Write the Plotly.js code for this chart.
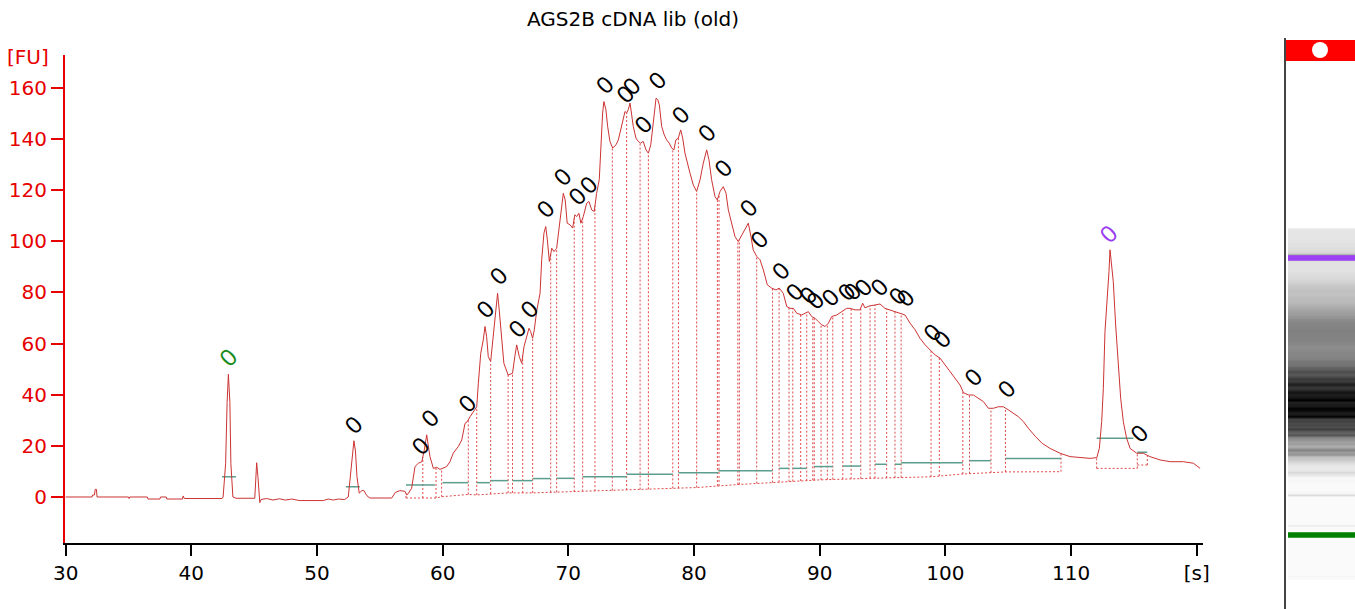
<!DOCTYPE html>
<html>
<head>
<meta charset="utf-8">
<script src="https://cdn.plot.ly/plotly-3.0.1.min.js"></script>
<style>html,body{margin:0;padding:0;background:#fff;}#chart{width:1355px;height:609px;}</style>
</head>
<body>
<div id="chart"></div>
<script>
// ---- Electropherogram trace (migration time [s], fluorescence [FU]) ----
const timeS = [30.0,32.10,32.15,32.30,32.35,32.45,32.50,35.00,35.05,35.10,36.50,36.55,37.50,37.55,38.00,38.05,39.30,39.35,39.45,42.45,
42.53,42.73,42.85,42.95,43.07,43.15,43.31,43.56,45.05,45.15,45.20,45.30,45.40,45.45,45.55,46.00,46.50,47.00,47.50,48.00,48.60,50.50,50.90,51.30,51.70,52.20,
52.49,52.70,52.86,52.94,53.06,53.18,53.36,53.57,53.73,53.97,54.21,55.95,56.24,56.60,57.00,57.14,57.24,57.53,57.80,58.07,58.34,58.54,58.73,58.99,
59.26,59.53,59.79,60.05,60.32,60.58,60.84,61.24,61.52,61.78,61.96,62.18,62.44,62.71,62.84,63.03,63.23,63.37,63.50,63.63,63.82,64.02,64.24,64.37,64.50,
64.69,64.87,65.21,65.56,65.74,65.89,66.10,66.29,66.47,66.68,66.87,67.00,67.16,67.29,67.49,67.75,67.88,68.06,68.20,68.33,68.49,68.68,68.86,69.07,69.28,
69.47,69.60,69.75,69.91,70.13,70.34,70.52,70.66,70.84,71.00,71.19,71.46,71.64,71.86,72.06,72.25,72.46,72.57,72.73,72.83,72.99,73.13,73.31,73.53,73.80,
73.98,74.17,74.37,74.51,74.64,74.77,74.91,75.04,75.17,75.38,75.56,75.75,75.96,76.18,76.37,76.56,76.76,76.98,77.11,77.24,77.43,77.63,77.82,78.03,78.22,
78.40,78.56,78.75,78.94,79.10,79.28,79.46,79.68,79.94,80.21,80.48,80.74,81.01,81.19,81.40,81.67,81.85,82.07,82.33,82.55,82.73,83.00,83.26,83.52,83.79,
84.06,84.32,84.53,84.71,84.99,85.25,85.52,85.83,86.18,86.52,86.78,87.10,87.38,87.64,87.91,88.17,88.57,88.83,89.10,89.36,89.63,89.89,90.17,90.43,90.69,
90.96,91.36,91.75,92.15,92.41,92.81,93.20,93.42,93.60,94.01,94.40,94.80,95.19,95.59,95.99,96.40,96.79,97.19,97.59,97.98,98.39,98.79,99.18,99.58,99.98,
100.37,100.77,101.17,101.44,101.84,102.23,102.63,103.03,103.42,103.82,104.21,104.61,105.01,105.40,105.81,106.21,106.60,107.14,107.70,108.33,109.13,109.92,110.72,111.51,112.05,
112.25,112.44,112.57,112.70,112.89,113.02,113.10,113.24,113.36,113.55,113.76,113.95,114.16,114.42,114.70,115.23,115.75,116.28,117.08,117.88,118.94,119.74,120.27];
const fu = [0,0,0.8,0.8,3.0,3.0,0,0,-0.6,0,0,-0.8,-0.8,0,0,-0.8,-0.8,0.4,-0.6,-0.6,
0,13,37,48,37,13,0,-0.5,-0.5,8,13.4,8,0,-2.2,-1,-0.6,-1.2,-0.7,-1.2,-0.8,-1.4,-1.4,-0.8,-1.2,-0.8,-1.0,
0,10,19,22,18,8,1.5,2.5,2.5,0.5,-0.4,-0.4,1.8,2.5,2.2,0.8,1.2,3.4,11.9,13.2,13.8,18.4,24.3,15.8,
11.2,11.6,10.8,11.2,11.9,13.8,17.1,19.7,22.3,28.8,29.5,31.4,33.4,35.3,44.5,56.2,61.4,66.7,62.7,54.9,53,62.7,71.9,79.7,73.2,
61.4,52.3,47.7,48.4,54.9,59.5,54.9,52.3,58.8,62.1,66,64.7,62.1,65.4,73,79.7,92.8,103.2,105.8,100.6,92.1,97.3,96,97.3,105.8,
114.9,118.8,116.2,107.1,106.5,105.2,110.4,109.7,111,107.1,109.7,114.9,115.6,112.3,111.7,118.8,124.1,137.1,150.2,154.7,151.5,144.9,139.1,136.5,137.8,
139.7,143.6,148.8,150.8,150.2,151.5,154.1,149.5,144.9,140.4,139.1,138.4,139.1,135.8,134.5,137.8,147.6,156,155.5,153.4,144.9,141.7,139.7,138.4,136.5,
135.8,139.7,140.4,143.6,140.4,134.5,130.6,126.7,122.1,119.5,124.1,130.6,135.8,131.9,124.1,117.5,116.2,119.5,121.4,118.8,112.3,107.1,101.9,99.9,102.5,
105.2,107.1,101.9,96.7,94.1,92.8,88.8,83,81.7,81,81.7,79.7,74.5,73.8,73.8,71.9,71.2,71.9,72.5,70.6,69.9,68.6,67.3,66.7,68,
70.6,71.2,72.5,73.8,73.8,73.2,73.2,75.8,74,74.8,75.1,75.5,73.8,73.2,72.5,71.9,71.2,68,65.4,62.1,59.5,57.5,55.6,54.3,51.7,
49,46.4,43.8,40.8,39.9,39.9,38.6,37.3,34.7,34.7,35.3,35.3,34.1,32.8,31.4,29.5,26.9,23.8,21,19,17.1,15.8,15.4,15.1,15.4,
19,29.5,42.5,64.7,77.8,88.2,96.7,90.8,84.3,67.3,50.4,38.6,29.5,23,19,17.1,17.1,15.8,14.5,13.8,13.8,13.2,11.2];

// ---- Peak markers: time [s], marker height [FU], kind ----
const peakTimes = [42.92,52.94,58.27,58.92,61.94,63.37,64.48,65.91,66.87,68.22,69.57,70.69,71.64,72.91,74.51,74.99,75.95,77.06,78.96,81.03,
82.31,84.37,85.18,86.92,88.03,89.07,89.63,90.84,92.17,92.58,93.45,94.72,96.23,96.86,98.94,99.66,102.2,104.9,113.02,115.41];
const peakMarkY = [54.4,28.2,20,30.9,36.4,73.2,86.5,66.1,73.2,112.7,125.2,117.4,122.1,161.3,157.3,160.5,145.6,162.8,149.5,142.5,
128.4,113.1,100.6,88.5,80.2,78.7,76.7,77.9,80.2,80.2,81.8,81.8,78.7,77.9,64.2,61.8,46.6,42.3,102.9,24.7];
const peakKind = ['lower'].concat(Array(37).fill('sample'), ['upper','sample']);

// ---- Peak boundaries (dotted) and local baselines ----
const boundTimes = [57.08,58.42,59.47,59.92,62.04,62.71,63.82,65.21,65.56,66.37,67.16,68.60,69.07,70.47,71.14,72.12,73.50,74.64,75.71,76.37,
78.31,78.76,80.21,81.86,81.99,83.49,83.61,84.99,86.25,86.77,87.56,87.86,88.49,88.97,89.45,89.57,90.11,90.61,91.04,91.84,
92.50,93.27,94.01,94.40,95.33,95.99,96.48,98.86,99.52,101.39,101.92,103.63,104.78,109.20];
const bottomT = [57.08,59.47,59.92,62.04,62.71,63.82,65.21,67.16,68.60,72.12,75.71,80.21,83.61,86.25,90.02,94.01,98.86,101.39,104.78,109.20];
const bottomFU = [-0.4,-0.4,0.1,1.0,0.8,1.2,1.6,1.6,1.8,2.3,2.9,3.7,4.9,5.6,6.7,7.3,7.9,9.0,9.8,9.9];
const ladderBounds = [112.04,115.27,116.07];
const ladderBase = [11.2,11.2,12.5];

// ---- Horizontal (teal) peak level segments ----
const segStart = [42.45,52.30,57.08,59.99,62.71,63.82,65.56,67.16,69.07,71.14,74.64,78.76,81.93,86.77,87.86,89.57,91.84,94.40,95.99,96.48,101.92,104.78,112.04,115.27];
const segEnd   = [43.56,53.41,59.38,62.04,63.76,65.21,67.16,68.58,70.47,74.64,78.31,81.93,86.25,87.56,88.97,91.04,93.27,95.33,96.48,101.39,103.63,109.20,114.96,116.07];
const segLevel = [7.9,4.0,4.7,5.6,5.6,6.4,6.4,7.2,7.3,7.9,8.9,9.5,10.3,11.2,11.2,11.9,12.1,12.8,12.8,13.4,14.2,15.1,23.0,17.5];

// ---- Axis ticks ----
const xTickVals = [30,40,50,60,70,80,90,100,110,120];
const xTickText = ['30','40','50','60','70','80','90','100','110','[s]'];
const yTickVals = [0,20,40,60,80,100,120,140,160];

function interp(xs, ys, t) {
  if (t <= xs[0]) return ys[0];
  for (let i = 1; i < xs.length; i++) {
    if (t <= xs[i]) { const f = (t - xs[i-1]) / (xs[i] - xs[i-1]); return ys[i-1] + f * (ys[i] - ys[i-1]); }
  }
  return ys[ys.length - 1];
}

const W = 1355, H = 609;
const px = v => v / W, py = v => 1 - v / H;
const RED = '#e60000', TRACE = '#cc3333', DOT = '#e04848', TEAL = '#5b9e8e';
const FONT = 'DejaVu Sans, Verdana, sans-serif';

const dvx = [], dvy = [];
boundTimes.forEach(b => { dvx.push(b, b, null); dvy.push(interp(bottomT, bottomFU, b), interp(timeS, fu, b), null); });
ladderBounds.forEach((b, i) => { dvx.push(b, b, null); dvy.push(ladderBase[i], interp(timeS, fu, b), null); });
const ladX = [ladderBounds[0], ladderBounds[1], null, ladderBounds[1], ladderBounds[2]];
const ladY = [ladderBase[0], ladderBase[1], null, ladderBase[2], ladderBase[2]];

const gx = [], gy = [];
segStart.forEach((s, i) => { gx.push(s, segEnd[i], null); gy.push(segLevel[i], segLevel[i], null); });

const traces = [
  {x: dvx, y: dvy, mode: 'lines', line: {color: DOT, width: 1, dash: '2px,2px'}, hoverinfo: 'skip'},
  {x: bottomT, y: bottomFU, mode: 'lines', line: {color: DOT, width: 1, dash: '2px,2px'}, hoverinfo: 'skip'},
  {x: ladX, y: ladY, mode: 'lines', line: {color: DOT, width: 1, dash: '2px,2px'}, hoverinfo: 'skip'},
  {x: gx, y: gy, mode: 'lines', line: {color: TEAL, width: 1.5}, hoverinfo: 'skip'},
  {x: timeS, y: fu, mode: 'lines', line: {color: TRACE, width: 1}, name: 'sample'},
  {type: 'heatmap', x: [0], y: timeS, z: fu.map(v => [v]), xaxis: 'x2', yaxis: 'y2',
   zmin: 0, zmax: 155, showscale: false, hoverinfo: 'skip',
   colorscale: [[0, 'rgb(250,250,250)'], [1, 'rgb(0,0,0)']]}
];

const kindColor = {lower: '#1a8c1a', upper: '#9b3cf0', sample: '#000000'};
const annotations = peakTimes.map((t, i) => ({
  x: t, y: peakMarkY[i], xref: 'x', yref: 'y', text: '0', showarrow: false, textangle: -45,
  xanchor: 'center', yanchor: 'middle',
  font: {family: 'Liberation Sans, Arial, sans-serif', size: 24, color: kindColor[peakKind[i]]}
}));
annotations.push({x: px(28), y: py(57), xref: 'paper', yref: 'paper', text: '[FU]', showarrow: false,
  xanchor: 'center', yanchor: 'middle', font: {family: FONT, size: 20, color: RED}});

const lowerT = peakTimes[peakKind.indexOf('lower')], upperT = peakTimes[peakKind.indexOf('upper')];
const shapes = [
  {type: 'line', xref: 'paper', yref: 'paper', x0: px(1285), x1: px(1285), y0: 0, y1: py(38), line: {color: '#444', width: 2}},
  {type: 'rect', xref: 'paper', yref: 'paper', x0: px(1286), x1: 1, y0: py(61), y1: py(40), fillcolor: '#ff0000', line: {width: 0}},
  {type: 'circle', xref: 'paper', yref: 'paper', x0: px(1312), x1: px(1328), y0: py(58), y1: py(42), fillcolor: '#ffffff', line: {width: 0}},
  {type: 'rect', xref: 'x2', yref: 'y2', x0: -0.5, x1: 0.5, y0: upperT - 0.7, y1: upperT + 0.7, fillcolor: '#9b40f5', line: {width: 0}},
  {type: 'rect', xref: 'x2', yref: 'y2', x0: -0.5, x1: 0.5, y0: lowerT - 0.7, y1: lowerT + 0.7, fillcolor: '#008000', line: {width: 0}}
];

const layout = {
  width: W, height: H, margin: {l: 0, r: 0, t: 0, b: 0}, showlegend: false,
  paper_bgcolor: '#ffffff', plot_bgcolor: '#ffffff',
  title: {text: 'AGS2B cDNA lib (old)', x: px(633), xanchor: 'center', y: py(19), yanchor: 'middle',
          font: {family: FONT, size: 20, color: '#000'}},
  xaxis: {domain: [px(65), px(1203)], range: [29.95, 120.5], anchor: 'y', showgrid: false, zeroline: false,
          showline: true, linecolor: '#000', linewidth: 2, ticks: 'outside', ticklen: 11, tickwidth: 2, tickcolor: '#000',
          tickvals: xTickVals, ticktext: xTickText, tickfont: {family: FONT, size: 20, color: '#000'},
          automargin: false, fixedrange: true},
  yaxis: {domain: [py(543), py(55)], range: [-18, 172.9], anchor: 'x', showgrid: false, zeroline: false,
          showline: true, linecolor: RED, linewidth: 2, ticks: 'outside', ticklen: 12, tickwidth: 2, tickcolor: RED,
          tickvals: yTickVals, tickfont: {family: FONT, size: 20, color: RED},
          automargin: false, fixedrange: true},
  xaxis2: {domain: [px(1288), 1], range: [-0.5, 0.5], anchor: 'y2', visible: false, fixedrange: true},
  yaxis2: {domain: [py(580), py(60)], range: [31.53, 163.14], anchor: 'x2', visible: false, fixedrange: true},
  annotations: annotations, shapes: shapes
};

Plotly.newPlot('chart', traces, layout, {displayModeBar: false, staticPlot: true});
</script>
</body>
</html>
